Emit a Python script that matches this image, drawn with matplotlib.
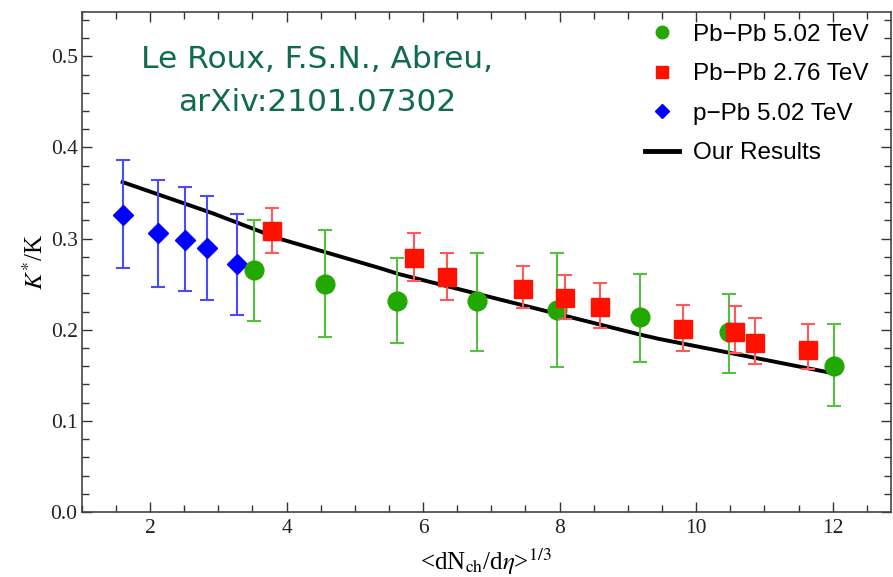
import matplotlib
matplotlib.use("Agg")
import matplotlib.pyplot as plt
from matplotlib.ticker import MultipleLocator, FormatStrFormatter

plt.rcParams["mathtext.fontset"] = "stix"

# Pb-Pb 5.02 TeV (green circles)
pb502_x = [3.53, 4.56, 5.62, 6.79, 7.96, 9.18, 10.48, 12.02]
pb502_y = [0.265, 0.250, 0.232, 0.231, 0.222, 0.214, 0.197, 0.160]
pb502_lo = [0.210, 0.192, 0.185, 0.177, 0.159, 0.165, 0.153, 0.116]
pb502_hi = [0.320, 0.309, 0.279, 0.284, 0.284, 0.261, 0.239, 0.206]

# Pb-Pb 2.76 TeV (red squares)
pb276_x = [3.78, 5.87, 6.35, 7.47, 8.08, 8.59, 9.81, 10.57, 10.86, 11.64]
pb276_y = [0.308, 0.279, 0.258, 0.245, 0.235, 0.225, 0.201, 0.197, 0.185, 0.178]
pb276_lo = [0.284, 0.253, 0.233, 0.224, 0.212, 0.202, 0.177, 0.175, 0.162, 0.157]
pb276_hi = [0.334, 0.306, 0.284, 0.270, 0.260, 0.251, 0.227, 0.226, 0.213, 0.206]

# p-Pb 5.02 TeV (blue diamonds)
ppb_x = [1.60, 2.12, 2.51, 2.84, 3.28]
ppb_y = [0.326, 0.306, 0.299, 0.290, 0.272]
ppb_lo = [0.268, 0.247, 0.242, 0.233, 0.216]
ppb_hi = [0.386, 0.364, 0.357, 0.347, 0.327]

# model curve ("Our Results")
model_x = [1.60, 2.91, 3.89, 5.35, 5.65, 7.40, 9.16, 9.45, 11.92]
model_y = [0.362, 0.328, 0.300, 0.268, 0.261, 0.228, 0.195, 0.190, 0.1535]

legend_labels = ["Pb\u2212Pb 5.02 TeV", "Pb\u2212Pb 2.76 TeV",
                 "p\u2212Pb 5.02 TeV", "Our Results"]


def err(y, lo, hi):
    return [[v - l for v, l in zip(y, lo)], [h - v for v, h in zip(y, hi)]]


fig = plt.figure(figsize=(8.93, 5.77), dpi=100)
ax = fig.add_axes([0.0915, 0.1127, 0.906, 0.867])

ax.plot(model_x, model_y, color="black", linewidth=2.8, zorder=2)

ax.errorbar(ppb_x, ppb_y, yerr=err(ppb_y, ppb_lo, ppb_hi), fmt="D",
            color="#0000ff", ecolor="#4a4aff", markersize=10.5,
            elinewidth=1.5, capsize=5, capthick=1.5, zorder=3)
ax.errorbar(pb502_x, pb502_y, yerr=err(pb502_y, pb502_lo, pb502_hi), fmt="o",
            color="#22a800", ecolor="#55c040", markersize=13.5,
            elinewidth=1.5, capsize=5, capthick=1.5, zorder=3)
ax.errorbar(pb276_x, pb276_y, yerr=err(pb276_y, pb276_lo, pb276_hi), fmt="s",
            color="#ff1100", ecolor="#ff5a5a", markersize=13,
            elinewidth=1.5, capsize=5, capthick=1.5, zorder=4)

ax.set_xlim(1.0, 12.85)
ax.set_ylim(0.0, 0.549)
ax.xaxis.set_major_locator(MultipleLocator(2))
ax.xaxis.set_minor_locator(MultipleLocator(0.5))
ax.yaxis.set_major_locator(MultipleLocator(0.1))
ax.yaxis.set_minor_locator(MultipleLocator(0.02))
ax.yaxis.set_major_formatter(FormatStrFormatter("%.1f"))
ax.tick_params(which="both", direction="in", top=True, right=True,
               colors="#333333", labelcolor="#222222")
ax.tick_params(which="major", length=7, width=1, pad=5)
ax.tick_params(which="minor", length=5, width=1)
ax.tick_params(axis="y", which="major", pad=3)
for lab in ax.get_xticklabels() + ax.get_yticklabels():
    lab.set_fontfamily("Liberation Serif")
    lab.set_fontsize(15.5)
for s in ax.spines.values():
    s.set_color("#444444")
    s.set_linewidth(1.2)

ax.set_xlabel(r"<dN$_{\rm ch}$/d$\eta$>$^{1/3}$", fontsize=18,
              fontfamily="Liberation Serif", labelpad=6)
ax.set_ylabel(r"$K^{*}$/K", fontsize=18, fontfamily="Liberation Serif",
              labelpad=2)

ax.text(0.291, 0.862, "Le Roux, F.S.N., Abreu,\narXiv:2101.07302",
        transform=ax.transAxes, ha="center", va="center", fontsize=22.5,
        color="#0e6b4f", fontfamily="DejaVu Sans", linespacing=1.6)

# legend
h1, = ax.plot([], [], "o", color="#22a800", markersize=9)
h2, = ax.plot([], [], "s", color="#ff1100", markersize=9)
h3, = ax.plot([], [], "D", color="#0000ff", markersize=7)
h4, = ax.plot([], [], "-", color="black", linewidth=3.5)
ax.legend([h1, h2, h3, h4], legend_labels,
          loc="upper right", frameon=False, handlelength=1.4,
          handletextpad=0.6, labelspacing=0.72, bbox_to_anchor=(1.0, 1.02),
          prop={"family": "Liberation Sans", "size": 17.5})

fig.savefig("out.png", dpi=100)
